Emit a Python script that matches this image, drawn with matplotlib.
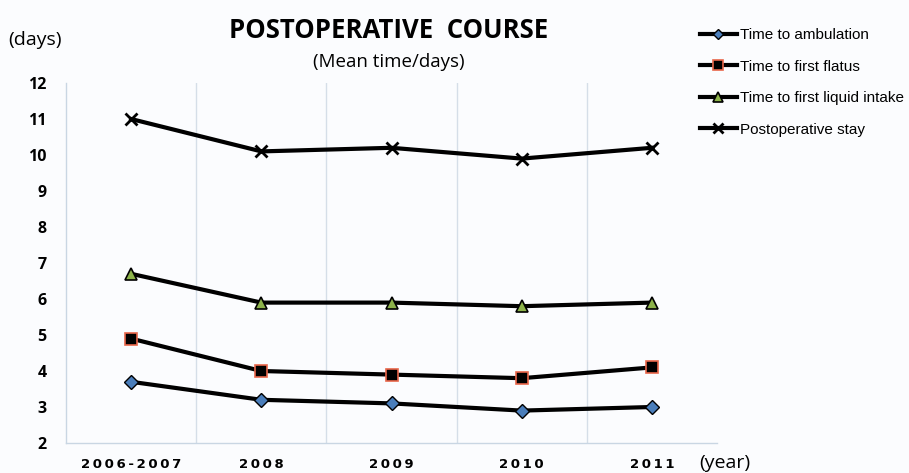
import matplotlib
matplotlib.use("Agg")
import matplotlib.pyplot as plt

categories = ["2006-2007", "2008", "2009", "2010", "2011"]
ambulation = [3.7, 3.2, 3.1, 2.9, 3.0]
flatus = [4.9, 4.0, 3.9, 3.8, 4.1]
liquid = [6.7, 5.9, 5.9, 5.8, 5.9]
stay = [11.0, 10.1, 10.2, 9.9, 10.2]
series_names = ["Time to ambulation", "Time to first flatus",
                "Time to first liquid intake", "Postoperative stay"]
yticks = list(range(2, 13))

FONT = ["Open Sans", "DejaVu Sans"]
plt.rcParams['font.family'] = FONT

fig = plt.figure(figsize=(9.09, 4.73), dpi=100)
fig.patch.set_facecolor("#FBFCFE")
ax = fig.add_axes([66/909, 30/473, 651/909, 360/473])
ax.set_facecolor("#FBFCFE")

x = list(range(len(categories)))
ax.plot(x, ambulation, color="black", lw=3, marker="D", ms=7,
        mfc="#4A7EBB", mec="black", mew=1, label=series_names[0], zorder=3)
ax.plot(x, flatus, color="black", lw=3, marker="s", ms=9,
        mfc="black", mec="#E8664A", mew=1.2, label=series_names[1], zorder=3)
ax.plot(x, liquid, color="black", lw=3, marker="^", ms=9,
        mfc="#8DB34A", mec="black", mew=1.2, label=series_names[2], zorder=3)
ax.plot(x, stay, color="black", lw=3, marker="x", ms=9,
        mec="black", mew=2, label=series_names[3], zorder=3)

ax.set_xlim(-0.5, len(categories) - 0.5)
ax.set_ylim(2, 12)
ax.set_yticks(yticks)
ax.set_yticklabels([str(v) for v in yticks], fontsize=11.5, fontweight="bold")
ax.set_xticks(x)
spaced = ["\u2009".join(list(c)) for c in categories]
ax.set_xticklabels(spaced, fontsize=9.5, fontweight="bold",
                   family=["DejaVu Sans"])
ax.tick_params(axis="both", length=0)
ax.tick_params(axis="y", pad=14)
ax.tick_params(axis="x", pad=11)

for b in [0.5, 1.5, 2.5, 3.5]:
    ax.axvline(b, color="#D5DEE8", lw=1, zorder=1)
for s in ["top", "right"]:
    ax.spines[s].set_visible(False)
for s in ["left", "bottom"]:
    ax.spines[s].set_color("#C9D6E3")
    ax.spines[s].set_linewidth(1)

fig.text(389/909, 1 - 30/473, "POSTOPERATIVE  COURSE", ha="center", va="center",
         fontsize=18.5, fontweight="bold")
fig.text(389/909, 1 - 62/473, "(Mean time/days)", ha="center", va="center",
         fontsize=13.5)
fig.text(8/909, 1 - 40/473, "(days)", ha="left", va="center", fontsize=14)
fig.text(699/909, 1 - 463/473, "(year)", ha="left", va="center", fontsize=14)

leg = fig.legend(loc="upper left", bbox_to_anchor=(700/909, 1 - 28/473),
                 frameon=False, handlelength=2.4,
                 labelspacing=1.15, handletextpad=0.2, borderaxespad=0,
                 borderpad=0, markerscale=0.8,
                 prop={"family": ["Liberation Sans", "DejaVu Sans"], "size": 11})

fig.savefig("out.png", dpi=100, facecolor=fig.get_facecolor())
